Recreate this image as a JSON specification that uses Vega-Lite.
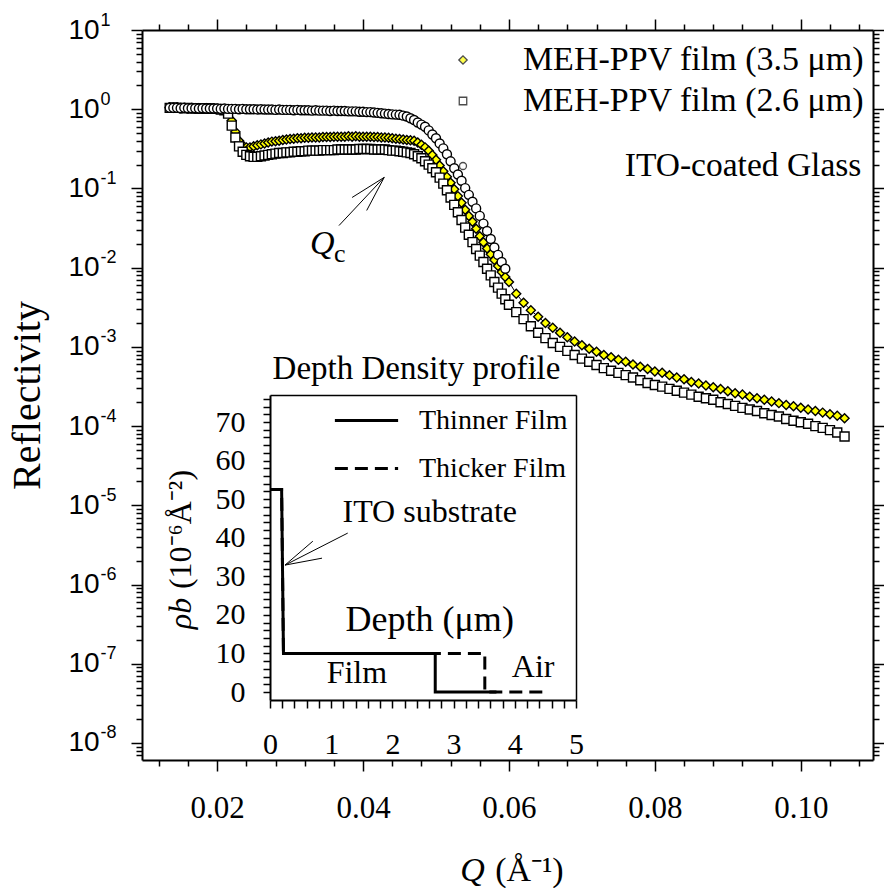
{
"$schema": "https://vega.github.io/schema/vega-lite/v6.json",
"width": 731,
"height": 730,
"autosize": {"type": "none"},
"padding": {"left": 142, "top": 30, "right": 11, "bottom": 128},
"background": "white",
"config": {
  "view": {"stroke": null},
  "font": "Liberation Serif",
  "axis": {"grid": false, "domainColor": "black", "tickColor": "black", "labelColor": "black", "titleColor": "black", "labelFontWeight": "normal", "titleFontWeight": "normal", "labelOverlap": false, "labelFlush": false},
  "legend": {"labelColor": "black"},
  "text": {"color": "black"}
},
"datasets": {
  "refl": [
    {"s":"3.5","q":0.0135,"r":1.05},{"s":"3.5","q":0.014,"r":1.04},{"s":"3.5","q":0.0145,"r":1.05},{"s":"3.5","q":0.015,"r":1.04},{"s":"3.5","q":0.0155,"r":1.04},{"s":"3.5","q":0.016,"r":1.03},{"s":"3.5","q":0.0165,"r":1.04},{"s":"3.5","q":0.017,"r":1.03},{"s":"3.5","q":0.0175,"r":1.03},{"s":"3.5","q":0.018,"r":1.02},{"s":"3.5","q":0.0185,"r":1.03},{"s":"3.5","q":0.019,"r":1.02},{"s":"3.5","q":0.0195,"r":1.02},{"s":"3.5","q":0.02,"r":1.01},{"s":"3.5","q":0.0205,"r":1.0},{"s":"3.5","q":0.021,"r":0.98},{"s":"3.5","q":0.0215,"r":0.92},{"s":"3.5","q":0.022,"r":0.72},{"s":"3.5","q":0.0225,"r":0.52},{"s":"3.5","q":0.023,"r":0.40},{"s":"3.5","q":0.0235,"r":0.35},{"s":"3.5","q":0.024,"r":0.33},{"s":"3.5","q":0.0245,"r":0.33},{"s":"3.5","q":0.025,"r":0.34},{"s":"3.5","q":0.0255,"r":0.35},{"s":"3.5","q":0.026,"r":0.36},{"s":"3.5","q":0.0265,"r":0.37},{"s":"3.5","q":0.027,"r":0.38},{"s":"3.5","q":0.0275,"r":0.39},{"s":"3.5","q":0.028,"r":0.395},{"s":"3.5","q":0.0285,"r":0.40},{"s":"3.5","q":0.029,"r":0.41},{"s":"3.5","q":0.0295,"r":0.415},{"s":"3.5","q":0.03,"r":0.42},{"s":"3.5","q":0.0305,"r":0.425},{"s":"3.5","q":0.031,"r":0.43},{"s":"3.5","q":0.0315,"r":0.43},{"s":"3.5","q":0.032,"r":0.435},{"s":"3.5","q":0.0325,"r":0.435},{"s":"3.5","q":0.033,"r":0.44},{"s":"3.5","q":0.0335,"r":0.44},{"s":"3.5","q":0.034,"r":0.44},{"s":"3.5","q":0.0345,"r":0.445},{"s":"3.5","q":0.035,"r":0.445},{"s":"3.5","q":0.0355,"r":0.445},{"s":"3.5","q":0.036,"r":0.45},{"s":"3.5","q":0.0365,"r":0.45},{"s":"3.5","q":0.037,"r":0.45},{"s":"3.5","q":0.0375,"r":0.45},{"s":"3.5","q":0.038,"r":0.455},{"s":"3.5","q":0.0385,"r":0.45},{"s":"3.5","q":0.039,"r":0.455},{"s":"3.5","q":0.0395,"r":0.45},{"s":"3.5","q":0.04,"r":0.45},{"s":"3.5","q":0.0405,"r":0.45},{"s":"3.5","q":0.041,"r":0.45},{"s":"3.5","q":0.0415,"r":0.445},{"s":"3.5","q":0.042,"r":0.445},{"s":"3.5","q":0.0425,"r":0.44},{"s":"3.5","q":0.043,"r":0.44},{"s":"3.5","q":0.0435,"r":0.435},{"s":"3.5","q":0.044,"r":0.43},{"s":"3.5","q":0.0445,"r":0.425},{"s":"3.5","q":0.045,"r":0.42},{"s":"3.5","q":0.0455,"r":0.415},{"s":"3.5","q":0.046,"r":0.41},{"s":"3.5","q":0.0465,"r":0.405},{"s":"3.5","q":0.047,"r":0.40},{"s":"3.5","q":0.0475,"r":0.38},{"s":"3.5","q":0.048,"r":0.355},{"s":"3.5","q":0.0485,"r":0.33},{"s":"3.5","q":0.049,"r":0.30},{"s":"3.5","q":0.0495,"r":0.265},{"s":"3.5","q":0.05,"r":0.23},{"s":"3.5","q":0.0505,"r":0.195},{"s":"3.5","q":0.051,"r":0.165},{"s":"3.5","q":0.0515,"r":0.14},{"s":"3.5","q":0.052,"r":0.118},{"s":"3.5","q":0.0525,"r":0.098},{"s":"3.5","q":0.053,"r":0.080},{"s":"3.5","q":0.0535,"r":0.066},{"s":"3.5","q":0.054,"r":0.054},{"s":"3.5","q":0.0545,"r":0.045},{"s":"3.5","q":0.055,"r":0.038},{"s":"3.5","q":0.0555,"r":0.031},{"s":"3.5","q":0.056,"r":0.025},{"s":"3.5","q":0.0565,"r":0.021},{"s":"3.5","q":0.057,"r":0.0175},{"s":"3.5","q":0.0575,"r":0.0148},{"s":"3.5","q":0.058,"r":0.0125},{"s":"3.5","q":0.0585,"r":0.0105},{"s":"3.5","q":0.059,"r":0.0088},{"s":"3.5","q":0.0595,"r":0.0076},{"s":"3.5","q":0.06,"r":0.0066},{"s":"3.5","q":0.061,"r":0.0047},{"s":"3.5","q":0.062,"r":0.0036},{"s":"3.5","q":0.063,"r":0.0029},{"s":"3.5","q":0.064,"r":0.0024},{"s":"3.5","q":0.065,"r":0.0020},{"s":"3.5","q":0.066,"r":0.00174},{"s":"3.5","q":0.067,"r":0.00151},{"s":"3.5","q":0.068,"r":0.00132},{"s":"3.5","q":0.069,"r":0.00117},{"s":"3.5","q":0.07,"r":0.00105},{"s":"3.5","q":0.071,"r":0.00095},{"s":"3.5","q":0.072,"r":0.00087},{"s":"3.5","q":0.073,"r":0.00079},{"s":"3.5","q":0.074,"r":0.00074},{"s":"3.5","q":0.075,"r":0.00069},{"s":"3.5","q":0.076,"r":0.00065},{"s":"3.5","q":0.077,"r":0.00060},{"s":"3.5","q":0.078,"r":0.00056},{"s":"3.5","q":0.079,"r":0.000525},{"s":"3.5","q":0.08,"r":0.00049},{"s":"3.5","q":0.081,"r":0.00047},{"s":"3.5","q":0.082,"r":0.00044},{"s":"3.5","q":0.083,"r":0.00041},{"s":"3.5","q":0.084,"r":0.00039},{"s":"3.5","q":0.085,"r":0.00036},{"s":"3.5","q":0.086,"r":0.000345},{"s":"3.5","q":0.087,"r":0.000325},{"s":"3.5","q":0.088,"r":0.00031},{"s":"3.5","q":0.089,"r":0.000295},{"s":"3.5","q":0.09,"r":0.000275},{"s":"3.5","q":0.091,"r":0.00026},{"s":"3.5","q":0.092,"r":0.00025},{"s":"3.5","q":0.093,"r":0.000235},{"s":"3.5","q":0.094,"r":0.000225},{"s":"3.5","q":0.095,"r":0.000215},{"s":"3.5","q":0.096,"r":0.000205},{"s":"3.5","q":0.097,"r":0.000195},{"s":"3.5","q":0.098,"r":0.000185},{"s":"3.5","q":0.099,"r":0.000178},{"s":"3.5","q":0.1,"r":0.00017},{"s":"3.5","q":0.101,"r":0.000162},{"s":"3.5","q":0.102,"r":0.000155},{"s":"3.5","q":0.103,"r":0.000148},{"s":"3.5","q":0.104,"r":0.000141},{"s":"3.5","q":0.105,"r":0.000135},{"s":"3.5","q":0.106,"r":0.000126},
    {"s":"2.6","q":0.0135,"r":1.04},{"s":"2.6","q":0.014,"r":1.05},{"s":"2.6","q":0.0145,"r":1.04},{"s":"2.6","q":0.015,"r":1.04},{"s":"2.6","q":0.0155,"r":1.03},{"s":"2.6","q":0.016,"r":1.04},{"s":"2.6","q":0.0165,"r":1.03},{"s":"2.6","q":0.017,"r":1.03},{"s":"2.6","q":0.0175,"r":1.02},{"s":"2.6","q":0.018,"r":1.03},{"s":"2.6","q":0.0185,"r":1.02},{"s":"2.6","q":0.019,"r":1.02},{"s":"2.6","q":0.0195,"r":1.01},{"s":"2.6","q":0.02,"r":1.01},{"s":"2.6","q":0.0205,"r":0.99},{"s":"2.6","q":0.021,"r":0.97},{"s":"2.6","q":0.0215,"r":0.88},{"s":"2.6","q":0.022,"r":0.62},{"s":"2.6","q":0.0225,"r":0.44},{"s":"2.6","q":0.023,"r":0.34},{"s":"2.6","q":0.0235,"r":0.29},{"s":"2.6","q":0.024,"r":0.265},{"s":"2.6","q":0.0245,"r":0.255},{"s":"2.6","q":0.025,"r":0.25},{"s":"2.6","q":0.0255,"r":0.25},{"s":"2.6","q":0.026,"r":0.255},{"s":"2.6","q":0.0265,"r":0.26},{"s":"2.6","q":0.027,"r":0.265},{"s":"2.6","q":0.0275,"r":0.27},{"s":"2.6","q":0.028,"r":0.275},{"s":"2.6","q":0.0285,"r":0.28},{"s":"2.6","q":0.029,"r":0.28},{"s":"2.6","q":0.0295,"r":0.285},{"s":"2.6","q":0.03,"r":0.285},{"s":"2.6","q":0.0305,"r":0.29},{"s":"2.6","q":0.031,"r":0.29},{"s":"2.6","q":0.0315,"r":0.295},{"s":"2.6","q":0.032,"r":0.295},{"s":"2.6","q":0.0325,"r":0.30},{"s":"2.6","q":0.033,"r":0.30},{"s":"2.6","q":0.0335,"r":0.30},{"s":"2.6","q":0.034,"r":0.30},{"s":"2.6","q":0.0345,"r":0.305},{"s":"2.6","q":0.035,"r":0.305},{"s":"2.6","q":0.0355,"r":0.305},{"s":"2.6","q":0.036,"r":0.305},{"s":"2.6","q":0.0365,"r":0.31},{"s":"2.6","q":0.037,"r":0.31},{"s":"2.6","q":0.0375,"r":0.31},{"s":"2.6","q":0.038,"r":0.31},{"s":"2.6","q":0.0385,"r":0.31},{"s":"2.6","q":0.039,"r":0.31},{"s":"2.6","q":0.0395,"r":0.315},{"s":"2.6","q":0.04,"r":0.315},{"s":"2.6","q":0.0405,"r":0.315},{"s":"2.6","q":0.041,"r":0.315},{"s":"2.6","q":0.0415,"r":0.31},{"s":"2.6","q":0.042,"r":0.31},{"s":"2.6","q":0.0425,"r":0.31},{"s":"2.6","q":0.043,"r":0.31},{"s":"2.6","q":0.0435,"r":0.305},{"s":"2.6","q":0.044,"r":0.30},{"s":"2.6","q":0.0445,"r":0.30},{"s":"2.6","q":0.045,"r":0.295},{"s":"2.6","q":0.0455,"r":0.29},{"s":"2.6","q":0.046,"r":0.285},{"s":"2.6","q":0.0465,"r":0.28},{"s":"2.6","q":0.047,"r":0.27},{"s":"2.6","q":0.0475,"r":0.255},{"s":"2.6","q":0.048,"r":0.24},{"s":"2.6","q":0.0485,"r":0.22},{"s":"2.6","q":0.049,"r":0.20},{"s":"2.6","q":0.0495,"r":0.18},{"s":"2.6","q":0.05,"r":0.16},{"s":"2.6","q":0.0505,"r":0.137},{"s":"2.6","q":0.051,"r":0.115},{"s":"2.6","q":0.0515,"r":0.095},{"s":"2.6","q":0.052,"r":0.077},{"s":"2.6","q":0.0525,"r":0.062},{"s":"2.6","q":0.053,"r":0.050},{"s":"2.6","q":0.0535,"r":0.040},{"s":"2.6","q":0.054,"r":0.032},{"s":"2.6","q":0.0545,"r":0.026},{"s":"2.6","q":0.055,"r":0.021},{"s":"2.6","q":0.0555,"r":0.0172},{"s":"2.6","q":0.056,"r":0.0142},{"s":"2.6","q":0.0565,"r":0.0118},{"s":"2.6","q":0.057,"r":0.0097},{"s":"2.6","q":0.0575,"r":0.0080},{"s":"2.6","q":0.058,"r":0.0066},{"s":"2.6","q":0.0585,"r":0.0056},{"s":"2.6","q":0.059,"r":0.0047},{"s":"2.6","q":0.0595,"r":0.0040},{"s":"2.6","q":0.06,"r":0.0034},{"s":"2.6","q":0.061,"r":0.00275},{"s":"2.6","q":0.062,"r":0.00224},{"s":"2.6","q":0.063,"r":0.00182},{"s":"2.6","q":0.064,"r":0.00151},{"s":"2.6","q":0.065,"r":0.00129},{"s":"2.6","q":0.066,"r":0.00112},{"s":"2.6","q":0.067,"r":0.0010},{"s":"2.6","q":0.068,"r":0.00089},{"s":"2.6","q":0.069,"r":0.00079},{"s":"2.6","q":0.07,"r":0.00071},{"s":"2.6","q":0.071,"r":0.00065},{"s":"2.6","q":0.072,"r":0.00059},{"s":"2.6","q":0.073,"r":0.00054},{"s":"2.6","q":0.074,"r":0.00050},{"s":"2.6","q":0.075,"r":0.00047},{"s":"2.6","q":0.076,"r":0.00044},{"s":"2.6","q":0.077,"r":0.00041},{"s":"2.6","q":0.078,"r":0.00038},{"s":"2.6","q":0.079,"r":0.00035},{"s":"2.6","q":0.08,"r":0.00033},{"s":"2.6","q":0.081,"r":0.000315},{"s":"2.6","q":0.082,"r":0.000295},{"s":"2.6","q":0.083,"r":0.00028},{"s":"2.6","q":0.084,"r":0.000265},{"s":"2.6","q":0.085,"r":0.00025},{"s":"2.6","q":0.086,"r":0.000235},{"s":"2.6","q":0.087,"r":0.000225},{"s":"2.6","q":0.088,"r":0.000215},{"s":"2.6","q":0.089,"r":0.0002},{"s":"2.6","q":0.09,"r":0.00019},{"s":"2.6","q":0.091,"r":0.00018},{"s":"2.6","q":0.092,"r":0.00017},{"s":"2.6","q":0.093,"r":0.000162},{"s":"2.6","q":0.094,"r":0.000155},{"s":"2.6","q":0.095,"r":0.000145},{"s":"2.6","q":0.096,"r":0.000138},{"s":"2.6","q":0.097,"r":0.000132},{"s":"2.6","q":0.098,"r":0.000123},{"s":"2.6","q":0.099,"r":0.000117},{"s":"2.6","q":0.1,"r":0.000112},{"s":"2.6","q":0.101,"r":0.000107},{"s":"2.6","q":0.102,"r":0.0001},{"s":"2.6","q":0.103,"r":0.000095},{"s":"2.6","q":0.104,"r":0.000089},{"s":"2.6","q":0.105,"r":0.000083},{"s":"2.6","q":0.106,"r":0.000074},
    {"s":"ITO","q":0.0135,"r":1.04},{"s":"ITO","q":0.014,"r":1.04},{"s":"ITO","q":0.0145,"r":1.04},{"s":"ITO","q":0.015,"r":1.03},{"s":"ITO","q":0.0155,"r":1.04},{"s":"ITO","q":0.016,"r":1.03},{"s":"ITO","q":0.0165,"r":1.03},{"s":"ITO","q":0.017,"r":1.03},{"s":"ITO","q":0.0175,"r":1.02},{"s":"ITO","q":0.018,"r":1.03},{"s":"ITO","q":0.0185,"r":1.02},{"s":"ITO","q":0.019,"r":1.02},{"s":"ITO","q":0.0195,"r":1.02},{"s":"ITO","q":0.02,"r":1.02},{"s":"ITO","q":0.0205,"r":1.01},{"s":"ITO","q":0.021,"r":1.02},{"s":"ITO","q":0.0215,"r":1.01},{"s":"ITO","q":0.022,"r":1.01},{"s":"ITO","q":0.0225,"r":1.01},{"s":"ITO","q":0.023,"r":1.0},{"s":"ITO","q":0.0235,"r":1.01},{"s":"ITO","q":0.024,"r":1.0},{"s":"ITO","q":0.0245,"r":1.0},{"s":"ITO","q":0.025,"r":1.0},{"s":"ITO","q":0.0255,"r":0.99},{"s":"ITO","q":0.026,"r":1.0},{"s":"ITO","q":0.0265,"r":0.99},{"s":"ITO","q":0.027,"r":0.99},{"s":"ITO","q":0.0275,"r":0.99},{"s":"ITO","q":0.028,"r":0.98},{"s":"ITO","q":0.0285,"r":0.99},{"s":"ITO","q":0.029,"r":0.98},{"s":"ITO","q":0.0295,"r":0.98},{"s":"ITO","q":0.03,"r":0.98},{"s":"ITO","q":0.0305,"r":0.97},{"s":"ITO","q":0.031,"r":0.98},{"s":"ITO","q":0.0315,"r":0.97},{"s":"ITO","q":0.032,"r":0.97},{"s":"ITO","q":0.0325,"r":0.97},{"s":"ITO","q":0.033,"r":0.96},{"s":"ITO","q":0.0335,"r":0.97},{"s":"ITO","q":0.034,"r":0.96},{"s":"ITO","q":0.0345,"r":0.96},{"s":"ITO","q":0.035,"r":0.96},{"s":"ITO","q":0.0355,"r":0.95},{"s":"ITO","q":0.036,"r":0.96},{"s":"ITO","q":0.0365,"r":0.95},{"s":"ITO","q":0.037,"r":0.95},{"s":"ITO","q":0.0375,"r":0.95},{"s":"ITO","q":0.038,"r":0.94},{"s":"ITO","q":0.0385,"r":0.94},{"s":"ITO","q":0.039,"r":0.94},{"s":"ITO","q":0.0395,"r":0.93},{"s":"ITO","q":0.04,"r":0.93},{"s":"ITO","q":0.0405,"r":0.92},{"s":"ITO","q":0.041,"r":0.92},{"s":"ITO","q":0.0415,"r":0.91},{"s":"ITO","q":0.042,"r":0.90},{"s":"ITO","q":0.0425,"r":0.89},{"s":"ITO","q":0.043,"r":0.88},{"s":"ITO","q":0.0435,"r":0.87},{"s":"ITO","q":0.044,"r":0.86},{"s":"ITO","q":0.0445,"r":0.855},{"s":"ITO","q":0.045,"r":0.85},{"s":"ITO","q":0.0455,"r":0.83},{"s":"ITO","q":0.046,"r":0.81},{"s":"ITO","q":0.0465,"r":0.77},{"s":"ITO","q":0.047,"r":0.73},{"s":"ITO","q":0.0475,"r":0.68},{"s":"ITO","q":0.048,"r":0.64},{"s":"ITO","q":0.0485,"r":0.60},{"s":"ITO","q":0.049,"r":0.54},{"s":"ITO","q":0.0495,"r":0.48},{"s":"ITO","q":0.05,"r":0.43},{"s":"ITO","q":0.0505,"r":0.37},{"s":"ITO","q":0.051,"r":0.32},{"s":"ITO","q":0.0515,"r":0.27},{"s":"ITO","q":0.052,"r":0.22},{"s":"ITO","q":0.0525,"r":0.18},{"s":"ITO","q":0.053,"r":0.150},{"s":"ITO","q":0.0535,"r":0.125},{"s":"ITO","q":0.054,"r":0.101},{"s":"ITO","q":0.0545,"r":0.083},{"s":"ITO","q":0.055,"r":0.068},{"s":"ITO","q":0.0555,"r":0.056},{"s":"ITO","q":0.056,"r":0.045},{"s":"ITO","q":0.0565,"r":0.036},{"s":"ITO","q":0.057,"r":0.029},{"s":"ITO","q":0.0575,"r":0.023},{"s":"ITO","q":0.058,"r":0.018},{"s":"ITO","q":0.0585,"r":0.0145},{"s":"ITO","q":0.059,"r":0.0118},{"s":"ITO","q":0.0595,"r":0.0097}
  ],
  "sld": [
    {"film":"Thicker Film","i":0,"depth":0,"sld":52.5},{"film":"Thicker Film","i":1,"depth":0.19,"sld":52.5},{"film":"Thicker Film","i":2,"depth":0.22,"sld":10},{"film":"Thicker Film","i":3,"depth":3.51,"sld":10},{"film":"Thicker Film","i":4,"depth":3.51,"sld":0},{"film":"Thicker Film","i":5,"depth":4.52,"sld":0},
    {"film":"Thinner Film","i":0,"depth":0,"sld":52.5},{"film":"Thinner Film","i":1,"depth":0.19,"sld":52.5},{"film":"Thinner Film","i":2,"depth":0.22,"sld":10},{"film":"Thinner Film","i":3,"depth":2.70,"sld":10},{"film":"Thinner Film","i":4,"depth":2.70,"sld":0},{"film":"Thinner Film","i":5,"depth":3.70,"sld":0}
  ]
},
"layer": [
  {
    "layer": [
      {
        "data": {"name": "refl"},
        "mark": {"type": "line", "color": "black", "strokeWidth": 1},
        "encoding": {
          "x": {"field": "q", "type": "quantitative",
            "scale": {"domain": [0.0097, 0.1099], "nice": false, "zero": false},
            "axis": {"orient": "bottom",
              "values": [0.012,0.016,0.02,0.024,0.028,0.032,0.036,0.04,0.044,0.048,0.052,0.056,0.06,0.064,0.068,0.072,0.076,0.08,0.084,0.088,0.092,0.096,0.1,0.104,0.108],
              "tickSize": {"condition": {"test": "abs(datum.value*50 - round(datum.value*50)) < 0.01", "value": 11}, "value": 6},
              "tickWidth": 1.5, "domainWidth": 2,
              "labelExpr": "abs(datum.value*50 - round(datum.value*50)) < 0.01 ? format(datum.value, '.2f') : ''",
              "labelFont": "Liberation Serif", "labelFontSize": 31, "labelPadding": 22,
              "title": "(Å⁻¹)", "titleFont": "Liberation Serif", "titleFontSize": 34,
              "titleX": 387, "titleY": 120, "titleAlign": "center", "titleBaseline": "alphabetic"}},
          "y": {"field": "r", "type": "quantitative",
            "scale": {"type": "log", "domain": [6.1e-9, 10], "nice": false},
            "axis": {"orient": "left",
              "values": [7e-9,8e-9,9e-9,1e-8,2e-8,3e-8,4e-8,5e-8,6e-8,7e-8,8e-8,9e-8,1e-7,2e-7,3e-7,4e-7,5e-7,6e-7,7e-7,8e-7,9e-7,1e-6,2e-6,3e-6,4e-6,5e-6,6e-6,7e-6,8e-6,9e-6,1e-5,2e-5,3e-5,4e-5,5e-5,6e-5,7e-5,8e-5,9e-5,1e-4,2e-4,3e-4,4e-4,5e-4,6e-4,7e-4,8e-4,9e-4,1e-3,2e-3,3e-3,4e-3,5e-3,6e-3,7e-3,8e-3,9e-3,1e-2,2e-2,3e-2,4e-2,5e-2,6e-2,7e-2,8e-2,9e-2,1e-1,2e-1,3e-1,4e-1,5e-1,6e-1,7e-1,8e-1,9e-1,1,2,3,4,5,6,7,8,9,10],
              "tickSize": {"condition": {"test": "abs(log(datum.value)/LN10 - round(log(datum.value)/LN10)) < 0.01", "value": 11}, "value": 6},
              "tickWidth": 1.5, "domainWidth": 2,
              "labelExpr": "abs(log(datum.value)/LN10 - round(log(datum.value)/LN10)) < 0.01 ? '10' : ''",
              "labelAlign": "left", "labelBaseline": "middle", "labelPadding": 63,
              "labelFont": "Liberation Sans", "labelFontSize": 28,
              "title": "Reflectivity", "titleFont": "Liberation Serif", "titleFontSize": 40,
              "titleX": -115, "titleY": 365, "titleAlign": "center", "titleBaseline": "middle", "titleAngle": 270}},
          "detail": {"field": "s"}
        }
      },
      {
        "data": {"name": "refl"},
        "mark": {"type": "point", "filled": true, "stroke": "black", "strokeWidth": 1.4, "opacity": 1, "size": 81},
        "encoding": {
          "x": {"field": "q", "type": "quantitative",
            "axis": {"orient": "top",
              "values": [0.012,0.016,0.02,0.024,0.028,0.032,0.036,0.04,0.044,0.048,0.052,0.056,0.06,0.064,0.068,0.072,0.076,0.08,0.084,0.088,0.092,0.096,0.1,0.104,0.108],
              "tickSize": {"condition": {"test": "abs(datum.value*50 - round(datum.value*50)) < 0.01", "value": 11}, "value": 6},
              "tickWidth": 1.5, "domainWidth": 2, "labels": false, "title": null}},
          "y": {"field": "r", "type": "quantitative",
            "axis": {"orient": "left", "values": [1e-8,1e-7,1e-6,1e-5,1e-4,1e-3,1e-2,1e-1,1,10],
              "ticks": false, "domain": false, "tickSize": 0,
              "labelExpr": "'' + round(log(datum.value)/LN10)",
              "labelAlign": "left", "labelBaseline": "middle", "labelPadding": 42, "labelOffset": -10,
              "labelFont": "Liberation Sans", "labelFontSize": 18, "title": null}},
          "shape": {"field": "s", "type": "nominal",
            "scale": {"domain": ["3.5", "2.6", "ITO"], "range": ["diamond", "square", "circle"]}, "legend": null},
          "fill": {"field": "s", "type": "nominal",
            "scale": {"domain": ["3.5", "2.6", "ITO"], "range": ["#ffff00", "white", "white"]}, "legend": null}
        }
      },
      {
        "data": {"values": [{}]},
        "mark": {"type": "point", "shape": "diamond", "filled": true, "fill": "#ffff00", "stroke": "black", "strokeWidth": 1.3, "size": 70},
        "encoding": {
          "x": {"datum": 0.0537, "type": "quantitative", "axis": null},
          "y": {"datum": 4.18, "type": "quantitative", "axis": null}
        }
      },
      {
        "data": {"values": [{}]},
        "mark": {"type": "point", "shape": "square", "filled": true, "fill": "white", "stroke": "black", "strokeWidth": 1.3, "size": 56},
        "encoding": {
          "x": {"datum": 0.0537, "type": "quantitative", "axis": null},
          "y": {"datum": 1.27, "type": "quantitative", "axis": null}
        }
      },
      {
        "data": {"values": [{}]},
        "mark": {"type": "point", "shape": "circle", "filled": true, "fill": "white", "stroke": "black", "strokeWidth": 1.3, "size": 49},
        "encoding": {
          "x": {"datum": 0.0537, "type": "quantitative", "axis": null},
          "y": {"datum": 0.192, "type": "quantitative", "axis": null}
        }
      },
      {
        "data": {"values": [{}]},
        "mark": {"type": "text", "text": "MEH-PPV film (3.5 μm)", "font": "Liberation Serif", "fontSize": 34, "align": "right", "baseline": "middle"},
        "encoding": {
          "x": {"datum": 0.1086, "type": "quantitative", "axis": null},
          "y": {"datum": 4.18, "type": "quantitative", "axis": null}
        }
      },
      {
        "data": {"values": [{}]},
        "mark": {"type": "text", "text": "MEH-PPV film (2.6 μm)", "font": "Liberation Serif", "fontSize": 34, "align": "right", "baseline": "middle"},
        "encoding": {
          "x": {"datum": 0.1086, "type": "quantitative", "axis": null},
          "y": {"datum": 1.27, "type": "quantitative", "axis": null}
        }
      },
      {
        "data": {"values": [{}]},
        "mark": {"type": "text", "text": "ITO-coated Glass", "font": "Liberation Serif", "fontSize": 33.5, "align": "right", "baseline": "middle"},
        "encoding": {
          "x": {"datum": 0.1083, "type": "quantitative", "axis": null},
          "y": {"datum": 0.192, "type": "quantitative", "axis": null}
        }
      },
      {
        "data": {"values": [{}]},
        "mark": {"type": "text", "text": "Q", "font": "Liberation Serif", "fontStyle": "italic", "fontSize": 34, "align": "center", "baseline": "middle"},
        "encoding": {
          "x": {"datum": 0.0344, "type": "quantitative",
            "axis": {"orient": "bottom", "domain": false, "ticks": false, "labels": false,
              "title": "Q", "titleFont": "Liberation Serif", "titleFontStyle": "italic", "titleFontSize": 34,
              "titleX": 330, "titleY": 120, "titleAlign": "center", "titleBaseline": "alphabetic"}},
          "y": {"datum": 0.020, "type": "quantitative",
            "axis": {"orient": "right",
              "values": [7e-9,8e-9,9e-9,1e-8,2e-8,3e-8,4e-8,5e-8,6e-8,7e-8,8e-8,9e-8,1e-7,2e-7,3e-7,4e-7,5e-7,6e-7,7e-7,8e-7,9e-7,1e-6,2e-6,3e-6,4e-6,5e-6,6e-6,7e-6,8e-6,9e-6,1e-5,2e-5,3e-5,4e-5,5e-5,6e-5,7e-5,8e-5,9e-5,1e-4,2e-4,3e-4,4e-4,5e-4,6e-4,7e-4,8e-4,9e-4,1e-3,2e-3,3e-3,4e-3,5e-3,6e-3,7e-3,8e-3,9e-3,1e-2,2e-2,3e-2,4e-2,5e-2,6e-2,7e-2,8e-2,9e-2,1e-1,2e-1,3e-1,4e-1,5e-1,6e-1,7e-1,8e-1,9e-1,1,2,3,4,5,6,7,8,9,10],
              "tickSize": {"condition": {"test": "abs(log(datum.value)/LN10 - round(log(datum.value)/LN10)) < 0.01", "value": 11}, "value": 6},
              "tickWidth": 1.5, "domainWidth": 2, "labels": false, "title": null}}
        }
      },
      {
        "data": {"values": [{}]},
        "mark": {"type": "text", "text": "c", "font": "Liberation Serif", "fontSize": 26, "align": "center", "baseline": "middle"},
        "encoding": {
          "x": {"datum": 0.0368, "type": "quantitative", "axis": null},
          "y": {"datum": 0.0148, "type": "quantitative", "axis": null}
        }
      },
      {
        "data": {"values": [{}]},
        "mark": {"type": "rule", "color": "black", "strokeWidth": 1},
        "encoding": {
          "x": {"datum": 0.0367, "type": "quantitative", "axis": null},
          "y": {"datum": 0.034, "type": "quantitative", "axis": null},
          "x2": {"datum": 0.0429},
          "y2": {"datum": 0.138}
        }
      },
      {
        "data": {"values": [{}]},
        "mark": {"type": "rule", "color": "black", "strokeWidth": 1},
        "encoding": {
          "x": {"datum": 0.0429, "type": "quantitative", "axis": null},
          "y": {"datum": 0.138, "type": "quantitative", "axis": null},
          "x2": {"datum": 0.0385},
          "y2": {"datum": 0.0769}
        }
      },
      {
        "data": {"values": [{}]},
        "mark": {"type": "rule", "color": "black", "strokeWidth": 1},
        "encoding": {
          "x": {"datum": 0.0429, "type": "quantitative", "axis": null},
          "y": {"datum": 0.138, "type": "quantitative", "axis": null},
          "x2": {"datum": 0.0405},
          "y2": {"datum": 0.0527}
        }
      }
    ],
    "resolve": {"axis": {"x": "independent", "y": "independent"}}
  },
  {
    "layer": [
      {
        "data": {"name": "sld"},
        "mark": {"type": "line", "color": "black", "strokeWidth": 3},
        "encoding": {
          "x": {"field": "depth", "type": "quantitative",
            "scale": {"domain": [0, 5], "range": [128, 434], "nice": false, "zero": false},
            "axis": {"orient": "bottom", "offset": -60,
              "values": [0,0.2,0.4,0.6,0.8,1,1.2,1.4,1.6,1.8,2,2.2,2.4,2.6,2.8,3,3.2,3.4,3.6,3.8,4,4.2,4.4,4.6,4.8,5],
              "tickSize": 8, "tickWidth": 1.5, "domainWidth": 2,
              "labelExpr": "abs(datum.value - round(datum.value)) < 0.01 ? '' + round(datum.value) : ''",
              "labelFont": "Liberation Serif", "labelFontSize": 30, "labelPadding": 21, "title": null}},
          "y": {"field": "sld", "type": "quantitative",
            "scale": {"domain": [-2.07, 77], "range": [670, 365], "nice": false, "zero": false},
            "axis": {"orient": "left", "offset": -128,
              "values": [0,2,4,6,8,10,12,14,16,18,20,22,24,26,28,30,32,34,36,38,40,42,44,46,48,50,52,54,56,58,60,62,64,66,68,70,72,74,76],
              "tickSize": 7, "tickWidth": 1.5, "domainWidth": 2,
              "labelExpr": "datum.value % 10 == 0 ? '' + datum.value : ''",
              "labelFont": "Liberation Serif", "labelFontSize": 30, "labelPadding": 18,
              "title": "(10⁻⁶Å⁻²)", "titleFont": "Liberation Serif", "titleFontSize": 32,
              "titleX": -90, "titleY": 499, "titleAlign": "center", "titleBaseline": "middle", "titleAngle": 270}},
          "strokeDash": {"field": "film", "type": "nominal",
            "scale": {"domain": ["Thinner Film", "Thicker Film"], "range": [[1, 0], [13, 7]]},
            "legend": {"title": null, "orient": "none", "legendX": 191, "legendY": 357, "padding": 0,
              "symbolType": "stroke", "symbolSize": 4000, "symbolStrokeWidth": 3, "symbolStrokeColor": "black",
              "labelFont": "Liberation Serif", "labelFontSize": 28, "labelOffset": 19, "rowPadding": -21, "labelLimit": 400}},
          "order": {"field": "i", "type": "quantitative"}
        }
      },
      {
        "data": {"values": [{}]},
        "mark": {"type": "text", "text": "ITO substrate", "font": "Liberation Serif", "fontSize": 32, "align": "center", "baseline": "middle"},
        "encoding": {
          "x": {"datum": 2.61, "type": "quantitative",
            "axis": {"orient": "top", "offset": -365, "ticks": false, "labels": false, "domainWidth": 1.5,
              "title": "Depth Density profile", "titleFont": "Liberation Serif", "titleFontSize": 33,
              "titleX": 274, "titleY": -27, "titleAlign": "center", "titleBaseline": "middle"}},
          "y": {"datum": 46.7, "type": "quantitative",
            "axis": {"orient": "right", "offset": -297, "ticks": false, "labels": false, "domainWidth": 1.5, "title": null}}
        }
      },
      {
        "data": {"values": [{}]},
        "mark": {"type": "text", "text": "Depth (μm)", "font": "Liberation Serif", "fontSize": 36, "align": "center", "baseline": "middle"},
        "encoding": {
          "x": {"datum": 2.61, "type": "quantitative", "axis": null},
          "y": {"datum": 18.7, "type": "quantitative", "axis": null}
        }
      },
      {
        "data": {"values": [{}]},
        "mark": {"type": "text", "text": "Film", "font": "Liberation Serif", "fontSize": 32, "align": "center", "baseline": "middle"},
        "encoding": {
          "x": {"datum": 1.42, "type": "quantitative", "axis": null},
          "y": {"datum": 4.9, "type": "quantitative", "axis": null}
        }
      },
      {
        "data": {"values": [{}]},
        "mark": {"type": "text", "text": "Air", "font": "Liberation Serif", "fontSize": 32, "align": "center", "baseline": "middle"},
        "encoding": {
          "x": {"datum": 4.30, "type": "quantitative", "axis": null},
          "y": {"datum": 6.5, "type": "quantitative", "axis": null}
        }
      },
      {
        "data": {"values": [{}]},
        "mark": {"type": "rule", "color": "black", "strokeWidth": 1},
        "encoding": {
          "x": {"datum": 1.27, "type": "quantitative", "axis": null},
          "y": {"datum": 41.2, "type": "quantitative",
            "axis": {"orient": "left", "offset": -128, "domain": false, "ticks": false, "labels": false,
              "title": "ρb", "titleFont": "Liberation Serif", "titleFontStyle": "italic", "titleFontSize": 32,
              "titleX": -90, "titleY": 583, "titleAlign": "center", "titleBaseline": "middle", "titleAngle": 270}},
          "x2": {"datum": 0.245},
          "y2": {"datum": 32.9}
        }
      },
      {
        "data": {"values": [{}]},
        "mark": {"type": "rule", "color": "black", "strokeWidth": 1},
        "encoding": {
          "x": {"datum": 0.245, "type": "quantitative", "axis": null},
          "y": {"datum": 32.9, "type": "quantitative", "axis": null},
          "x2": {"datum": 0.70},
          "y2": {"datum": 39.1}
        }
      },
      {
        "data": {"values": [{}]},
        "mark": {"type": "rule", "color": "black", "strokeWidth": 1},
        "encoding": {
          "x": {"datum": 0.245, "type": "quantitative", "axis": null},
          "y": {"datum": 32.9, "type": "quantitative", "axis": null},
          "x2": {"datum": 0.85},
          "y2": {"datum": 34.7}
        }
      }
    ],
    "resolve": {"axis": {"x": "independent", "y": "independent"}}
  }
],
"resolve": {"scale": {"x": "independent", "y": "independent"}, "axis": {"x": "independent", "y": "independent"}}
}
